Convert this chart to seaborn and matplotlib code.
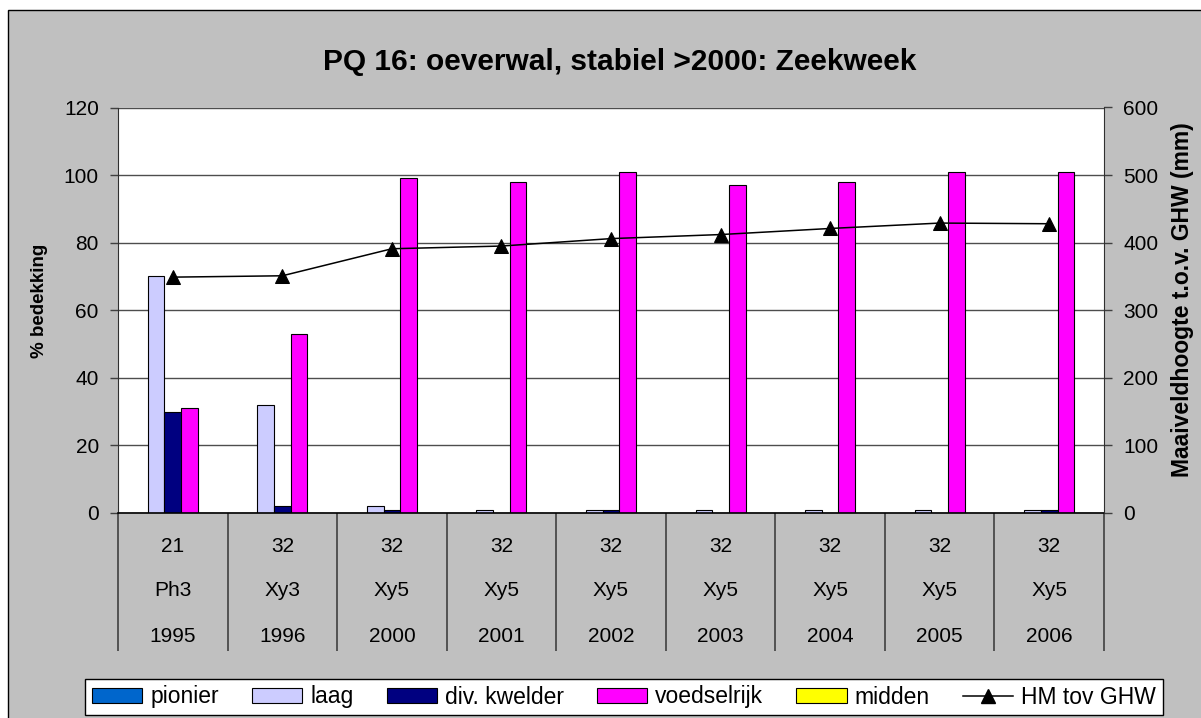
import numpy as np
import pandas as pd
import matplotlib
matplotlib.use("Agg")
import matplotlib.pyplot as plt
import seaborn as sns
from matplotlib.patches import Rectangle, Patch
from matplotlib.lines import Line2D

# Category levels (three-row axis)
years = ["1995", "1996", "2000", "2001", "2002", "2003", "2004", "2005", "2006"]
codes = ["21", "32", "32", "32", "32", "32", "32", "32", "32"]
types = ["Ph3", "Xy3", "Xy5", "Xy5", "Xy5", "Xy5", "Xy5", "Xy5", "Xy5"]

# Cover per vegetation group (%)
pionier = [0, 0, 0, 0, 0, 0, 0, 0, 0]
laag = [70, 32, 2, 1, 1, 1, 1, 1, 1]
div_kwelder = [30, 2, 1, 0, 1, 0, 0, 0, 1]
voedselrijk = [31, 53, 99, 98, 101, 97, 98, 101, 101]
midden = [0, 0, 0, 0, 0, 0, 0, 0, 0]

series_names = ["pionier", "laag", "div. kwelder", "voedselrijk", "midden"]
series_colors = ["#0066CC", "#CCCCFF", "#000080", "#FF00FF", "#FFFF00"]

# Surface level relative to mean high water (mm)
hm_tov_ghw = [349, 351, 391, 395, 406, 412, 421, 429, 428]

plt.rcParams["font.family"] = ["Liberation Sans", "DejaVu Sans"]

W, H = 1201, 718
fig = plt.figure(figsize=(W / 100, H / 100), dpi=100, facecolor="white")


def fx(px):
    return px / W


def fy(py):
    return 1 - py / H


# Grey chart area with black frame, kept behind the axes
fig.patches.append(Rectangle((fx(8), fy(H + 20)), 1.2, fy(10) - fy(H + 20),
                             transform=fig.transFigure, facecolor="#C0C0C0",
                             edgecolor="black", linewidth=1.0, zorder=-5))

ax = fig.add_axes([fx(118), fy(513), fx(1104) - fx(118), fy(107.5) - fy(513)])
ax.set_facecolor("white")

values = [pionier, laag, div_kwelder, voedselrijk, midden]
df = pd.DataFrame({
    "jaar": [y for _ in series_names for y in years],
    "groep": [n for n in series_names for _ in years],
    "bedekking": [v for vals in values for v in vals],
})

sns.barplot(data=df, x="jaar", y="bedekking", hue="groep", order=years,
            hue_order=series_names, palette=dict(zip(series_names, series_colors)),
            width=0.76, edgecolor="black", linewidth=0.8, errorbar=None,
            saturation=1, legend=False, ax=ax)

ax.set_ylim(0, 120)
ax.set_yticks(np.arange(0, 121, 20))
ax.set_xlim(-0.5, len(years) - 0.5)
ax.set_xlabel("")
ax.set_ylabel("")
ax.yaxis.grid(True, color="#4d4d4d", linewidth=1.0)
ax.xaxis.grid(False)
ax.set_axisbelow(True)

# category separators as long outward ticks
ax.set_xticks(np.arange(-0.5, len(years), 1.0))
ax.set_xticklabels([])
ax.tick_params(axis="x", direction="out", length=99, width=1.2, color="#404040")
ax.tick_params(axis="y", direction="out", length=5.8, width=1.0, color="#404040",
               labelsize=15, pad=8)

ax2 = ax.twinx()
sns.lineplot(x=np.arange(len(years)), y=hm_tov_ghw, ax=ax2, color="black",
             marker="^", markersize=9.5, markeredgecolor="black", linewidth=1.1)
ax2.set_ylim(0, 600)
ax2.set_yticks(np.arange(0, 601, 100))
ax2.set_xlim(-0.5, len(years) - 0.5)
ax2.set_ylabel("")
ax2.tick_params(axis="y", direction="out", length=5.8, width=1.0, color="#404040",
                labelsize=15, pad=8)

for a in (ax, ax2):
    a.spines["top"].set_visible(False)
ax.spines["right"].set_visible(False)
ax2.spines["left"].set_visible(False)
ax2.spines["bottom"].set_visible(False)
ax.spines["left"].set_color("#303030")
ax.spines["bottom"].set_color("black")
ax.spines["bottom"].set_linewidth(1.2)
ax2.spines["right"].set_color("#303030")

# three-level category labels
trans = ax.get_xaxis_transform()
ax_h = 513 - 107.5
for i in range(len(years)):
    for row_y, txt in ((546, codes[i]), (591, types[i]), (636, years[i])):
        ax.text(i, (513 - row_y) / ax_h, txt, ha="center", va="center",
                fontsize=15, transform=trans, clip_on=False)

fig.text(fx(620), fy(62), "PQ 16: oeverwal, stabiel >2000: Zeekweek",
         ha="center", va="center", fontsize=21.5, fontweight="bold")
fig.text(fx(40), fy(301), "% bedekking", rotation=90, ha="center", va="center",
         fontsize=13.5, fontweight="bold")
fig.text(fx(1182), fy(300), "Maaiveldhoogte t.o.v. GHW (mm)", rotation=90,
         ha="center", va="center", fontsize=16.5, fontweight="bold")

handles = [Patch(facecolor=c, edgecolor="black", linewidth=0.8, label=n)
           for n, c in zip(series_names, series_colors)]
handles.append(Line2D([], [], color="black", marker="^", markersize=9.5,
                      linewidth=1.1, label="HM tov GHW"))
leg = fig.legend(handles=handles, loc="center",
                 bbox_to_anchor=(fx(85), fy(717), fx(1163) - fx(85), fy(677) - fy(717)),
                 mode="expand", ncol=6, fontsize=16.5, frameon=True, fancybox=False,
                 edgecolor="black", facecolor="white", framealpha=1,
                 borderaxespad=0, handlelength=2.2, handleheight=0.65,
                 handletextpad=0.35, borderpad=0.3)
leg.get_frame().set_linewidth(1.0)

fig.savefig("out.png", dpi=100)
